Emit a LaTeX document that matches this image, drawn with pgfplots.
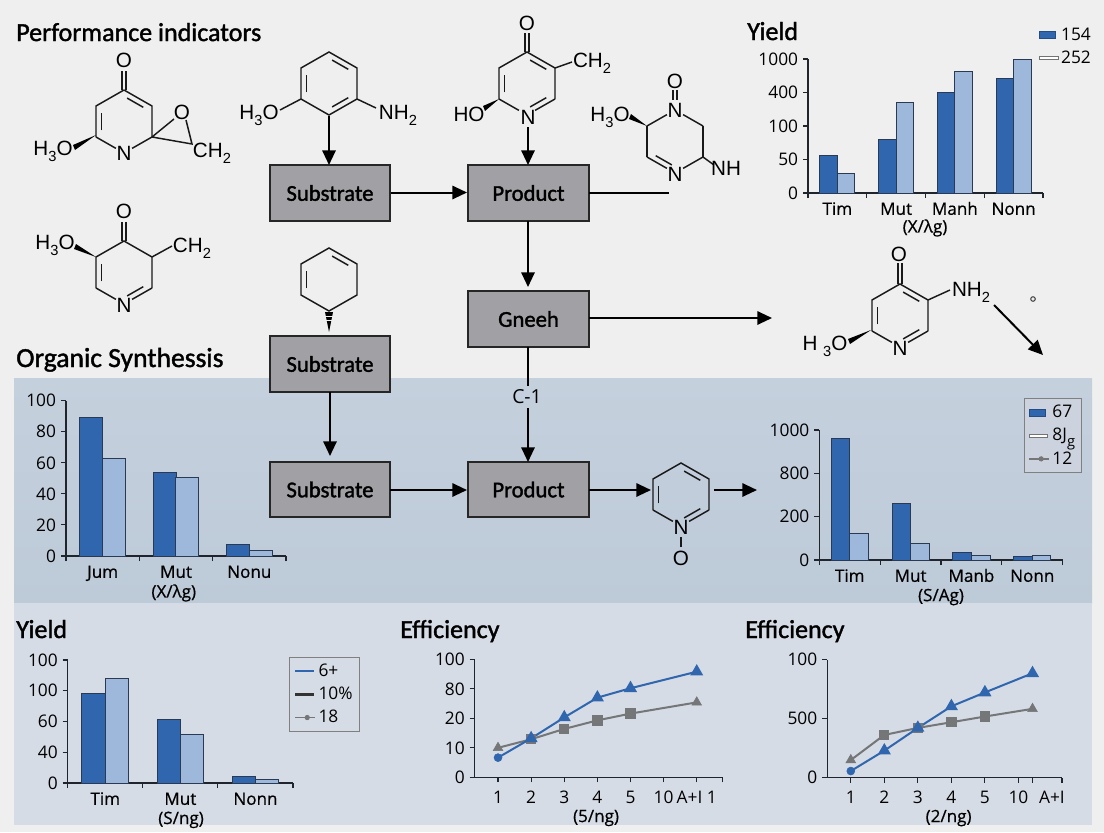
\documentclass[border=0pt]{standalone}
\usepackage{fontspec}
\usepackage{pgfplots}
\pgfplotsset{compat=1.18}
\usetikzlibrary{calc,arrows.meta}
\setmainfont{Open Sans}
\newfontfamily\titlef[FakeBold=1.5]{Carlito}
\newfontfamily\labelf[FakeBold=0.6]{Open Sans}
\newfontfamily\chemf{Liberation Sans}
\definecolor{barblue}{HTML}{2F66AD}
\definecolor{barlight}{HTML}{9DB8DA}
\definecolor{barline}{HTML}{2A3A52}
\definecolor{axisdark}{HTML}{20242C}
\definecolor{linegray}{HTML}{747678}
\definecolor{boxgray}{HTML}{A0A0A5}
\definecolor{pagebg}{HTML}{EFEFF0}
\definecolor{bandtop}{HTML}{C5D0DD}
\definecolor{bandbot}{HTML}{BDCAD8}
\definecolor{bandlow}{HTML}{D6DCE6}
\definecolor{legfill}{HTML}{CDD3DE}
\newcommand{\ttl}[1]{{\titlef\fontsize{19.5}{21}\selectfont #1}}
\newcommand{\sub}[1]{\raisebox{-.3em}{\fontsize{11}{12}\selectfont #1}}
\newcommand{\hexa}[3]{%
  \coordinate (#1c) at (#2,#3+31.5);
  \coordinate (#11) at (#2,#3);
  \coordinate (#12) at (#2+28,#3+16);
  \coordinate (#13) at (#2+28,#3+47);
  \coordinate (#14) at (#2,#3+63);
  \coordinate (#15) at (#2-28,#3+47);
  \coordinate (#16) at (#2-28,#3+16);}
\newcommand{\dbl}[3]{\draw[chem] ($(#1)!.14!(#2)!.2!(#3)$) -- ($(#2)!.14!(#1)!.2!(#3)$);}
\newcommand{\atom}[3]{\node[font=\chemf\fontsize{15.5}{17}\selectfont,inner sep=0pt] at (#1,#2) {#3};}
\pgfplotsset{
  panel/.style={
    scale only axis, anchor=south west, enlargelimits=false, clip=false,
    axis x line*=bottom, axis y line*=left,
    axis line style={axisdark,line width=.9pt,-},
    tick style={axisdark,line width=.8pt},
    tick align=outside, major tick length=3.75pt, minor tick length=3.75pt,
    yticklabel style={inner sep=1pt,xshift=-2.5pt,font=\fontsize{13}{14}\selectfont},
    xticklabel style={anchor=base,font=\labelf\fontsize{12.8}{14}\selectfont},
    x label style={anchor=center,font=\labelf\fontsize{12.8}{14}\selectfont},
    legend style={draw=none,fill=none,font=\fontsize{13}{14}\selectfont,
      inner sep=2pt,row sep=2.5pt,cells={anchor=west}},
    legend cell align=left,
  },
  barpanel/.style={panel,ybar,
    major x tick style={draw=none},
    xticklabel style={yshift=-12.6pt},
  },
  linepanel/.style={panel,xticklabel style={yshift=-15.8pt,font=\fontsize{13}{14}\selectfont}},
  bluebar/.style={fill=barblue,draw=barline,line width=.7pt},
  lightbar/.style={fill=barlight,draw=barline,line width=.7pt},
  legswatch/.style={legend image code/.code={\fill[#1,draw=barblue!75!black,line width=.4pt] (0pt,-2.5pt) rectangle (12pt,2.5pt);}},
  legthin/.style={legend image code/.code={\draw[#1,line width=.7pt,fill=white] (0pt,-1.2pt) rectangle (14pt,1.2pt);}},
  legline/.style={legend image code/.code={\draw[#1] (0pt,0pt) -- (14pt,0pt);}},
  legmark/.style={legend image code/.code={\draw[linegray,line width=1pt] (0pt,0pt) -- (15pt,0pt);\fill[linegray] (9pt,0pt) circle (1.6pt);}},
  blueline/.style={color=barblue,line width=1.5pt,mark=triangle*,mark size=4.2pt,mark options={solid,fill=barblue}},
  grayline/.style={color=linegray,line width=1.5pt,mark=square*,mark size=3.1pt,mark options={solid,fill=linegray}},
}
\begin{document}
\begin{tikzpicture}
\begin{scope}[x=0.75pt,y=-0.75pt,
  chem/.style={line width=1.1pt,black!90},
  flow/.style={line width=1.5pt,black},
  arr/.style={flow,-{Triangle[length=11pt,width=10pt]}},
  box/.style={draw=black!85,fill=boxgray,line width=1.1pt}]
\useasboundingbox (0,0) rectangle (1104,832);
% background and bands
\fill[pagebg] (0,0) rectangle (1104,832);
\shade[top color=bandtop,bottom color=bandbot] (14,378) rectangle (1092,603);
\fill[bandlow] (14,603) rectangle (1092,825);

% section titles
\node[anchor=base west,inner sep=0pt] at (16,41) {\ttl{Performance indicators}};
\node[anchor=base west,inner sep=0pt] at (747,40) {\ttl{Yield}};
\node[anchor=base west,inner sep=0pt] at (16,367) {{\titlef\fontsize{20.7}{22}\selectfont Organic Synthessis}};
\node[anchor=base west,inner sep=0pt] at (16,638) {\ttl{Yield}};
\node[anchor=base west,inner sep=0pt] at (400,638) {\ttl{Efficiency}};
\node[anchor=base west,inner sep=0pt] at (745,638) {\ttl{Efficiency}};

% molecule 1
\hexa{a}{124}{90}
\draw[chem] (a1)--(a2)--(a3) (a5)--(a6)--(a1);
\draw[chem,shorten >=7pt] (a3)--(a4);
\draw[chem,shorten >=7pt] (a5)--(a4);
\dbl{a1}{a2}{ac}\dbl{a5}{a6}{ac}
\draw[chem] (122,71)--(122,90) (126,71)--(126,90);
\fill (96,135)--(73,145)--(75,150)--cycle;
\draw[chem] (a3)--(174,119) (186,120)--(192,144)--(a3);
\atom{124}{60}{O}\atom{124}{153}{N}\atom{53}{151}{H\sub{3}O}\atom{182}{112}{O}\atom{212}{153}{CH\sub{2}}
% molecule 2
\hexa{b}{124}{241}
\draw[chem] (b5)--(b6)--(b1)--(b2)--(b3);
\draw[chem,shorten >=7pt] (b3)--(b4);
\draw[chem,shorten >=7pt] (b5)--(b4);
\dbl{b5}{b6}{bc}\dbl{b3}{b4}{bc}
\draw[chem] (122,222)--(122,241) (126,222)--(126,241);
\fill (96,257)--(76,244)--(74,249)--cycle;
\draw[chem] (b2)--(172,246);
\atom{124}{211}{O}\atom{124}{305}{N}\atom{55}{245}{H\sub{3}O}\atom{192}{248}{CH\sub{2}}
% molecule 3
\hexa{c}{329}{52}
\draw[chem] (c1)--(c2)--(c3)--(c4)--(c5)--(c6)--cycle;
\dbl{c1}{c2}{cc}\dbl{c3}{c4}{cc}\dbl{c5}{c6}{cc}
\draw[chem] (c5)--(280,110) (c3)--(376,108);
\atom{259}{115}{H\sub{3}O}\atom{398}{115}{NH\sub{2}}
% molecule 4
\hexa{d}{527}{52}
\draw[chem] (d5)--(d6)--(d1)--(d2)--(d3);
\draw[chem,shorten >=7pt] (d3)--(d4);
\draw[chem,shorten >=7pt] (d5)--(d4);
\dbl{d5}{d6}{dc}\dbl{d1}{d2}{dc}\dbl{d3}{d4}{dc}
\draw[chem] (525,33)--(525,52) (529,33)--(529,52);
\fill (499,99)--(483,106)--(485,111)--cycle;
\draw[chem] (d2)--(572,62);
\atom{527}{23}{O}\atom{528}{117}{N}\atom{469}{114}{HO}\atom{592}{63}{CH\sub{2}}
% molecule 5
\hexa{e}{675}{110}
\draw[chem,shorten <=7pt] (e1)--(e2);
\draw[chem] (e2)--(e3) (e5)--(e6);
\draw[chem,shorten >=7pt] (e3)--(e4);
\draw[chem,shorten >=7pt] (e5)--(e4);
\draw[chem,shorten >=7pt] (e6)--(e1);
\dbl{e5}{e4}{ec}
\draw[chem] (673,90)--(673,100) (677,90)--(677,100);
\fill (647,126)--(631,114)--(629,119)--cycle;
\draw[chem] (e3)--(714,165);
\atom{675}{81}{O}\atom{675}{110}{N}\atom{675}{174}{N}\atom{610}{117}{H\sub{3}O}\atom{726}{168}{NH}
% molecule 6
\hexa{f}{900}{284}
\draw[chem] (f5)--(f6)--(f1)--(f2)--(f3);
\draw[chem,shorten >=7pt] (f3)--(f4);
\draw[chem,shorten >=7pt] (f5)--(f4);
\dbl{f5}{f6}{fc}\dbl{f1}{f2}{fc}\dbl{f3}{f4}{fc}
\draw[chem] (898,263)--(898,284) (902,263)--(902,284);
\fill (871,330)--(848,339)--(850,344)--cycle;
\draw[chem] (f2)--(950,290);
\atom{899}{254}{O}\atom{900}{348}{N}\atom{825}{346}{H \sub{3}O}\atom{971}{292}{NH\sub{2}}
% molecule 7
\hexa{g}{329}{248}
\draw[chem] (g1)--(g2)--(g3)--(g4)--(g5)--(g6)--cycle;
\dbl{g1}{g2}{gc}\dbl{g5}{g6}{gc}
\fill (325,312)--(333,312)--(329,332)--cycle;
\draw[pagebg,line width=.5pt] (325,316)--(333,316) (325,320)--(333,320);
% molecule 8
\hexa{h}{681}{463}
\draw[chem] (h3)--(h2)--(h1)--(h6)--(h5);
\draw[chem,shorten >=7pt] (h3)--(h4);
\draw[chem,shorten >=7pt] (h5)--(h4);
\dbl{h5}{h6}{hc}\dbl{h1}{h2}{hc}\dbl{h3}{h4}{hc}
\draw[chem] (681,537)--(681,547);
\atom{681}{527}{N}\atom{681}{558}{O}

% flow boxes
\foreach \xa/\ya/\xb/\yb/\t in {270/165/390/221/Substrate,468/165/589/221/Product,468/291/589/347/Gneeh,
  270/336/390/392/Substrate,270/462/390/517/Substrate,468/462/589/517/Product}{
  \draw[box] (\xa,\ya) rectangle (\xb,\yb);
  \node[font=\titlef\fontsize{17}{19}\selectfont] at ({(\xa+\xb)/2},{(\ya+\yb)/2}) {\t};
}
% arrows
\draw[arr] (329,116)--(329,165);
\draw[arr] (391,192.5)--(467,192.5);
\draw[flow] (589,192.5)--(669,192.5);
\draw[arr] (528,127)--(528,165);
\draw[arr] (528,221)--(528,287);
\draw[arr] (589,318)--(772,318);
\draw[flow] (528,347)--(528,386);
\node[font=\fontsize{14.5}{16}\selectfont] at (527,397) {C-1};
\draw[arr] (528,408)--(528,462);
\draw[arr] (330,392)--(330,456);
\draw[arr] (390,490)--(467,490);
\draw[arr] (589,490)--(651,490);
\draw[arr] (714,490)--(757,490);
\draw[arr] (994,305)--(1043,355);
\draw[black!80,line width=.7pt] (1033,299) circle (2.3);
\end{scope}

% top right bars
\begin{axis}[barpanel,at={(606pt,-144.75pt)},width=176.25pt,height=100.5pt,
  xmin=-.5,xmax=3.5,ymin=0,ymax=4,bar width=13.1pt,
  xtick={0,1,2,3},xticklabels={Tim,Mut,Manh,Nonn},
  minor xtick={-.5,.5,1.5,2.5,3.5},
  ytick={0,1,2,3,4},yticklabels={0,50,100,400,1000},
  xlabel={(X/λg)},x label style={at={(axis description cs:.498,-.261)}},
  legend style={at={(.97,1.276)},anchor=north west}]
\addplot[bluebar,bar shift=-6.55pt,legswatch=barblue] coordinates {(0,1.13) (1,1.61) (2,3.01) (3,3.43)};
\addlegendentry{154}
\addplot[lightbar,bar shift=6.55pt,legthin=black!55] coordinates {(0,.57) (1,2.69) (2,3.64) (3,4)};
\addlegendentry{252}
\end{axis}

% organic synthesis left bars
\begin{axis}[barpanel,at={(49.5pt,-417pt)},width=165pt,height=116.5pt,
  xmin=-.5,xmax=2.5,ymin=0,ymax=100,bar width=17.25pt,
  xtick={0,1,2},xticklabels={Jum,Mut,Nonu},
  minor xtick={-.5,.5,1.5,2.5},
  ytick={0,20,40,60,80,100},yticklabels={0,20,40,60,80,100},
  xlabel={(X/λg)},x label style={at={(axis description cs:.49,-.238)}}]
\addplot[bluebar,bar shift=-8.6pt] coordinates {(0,89) (1,53.9) (2,7.7)};
\addplot[lightbar,bar shift=8.6pt] coordinates {(0,62.9) (1,50.6) (2,3.4)};
\end{axis}

% organic synthesis right bars
\begin{axis}[barpanel,at={(614.475pt,-420pt)},width=182.55pt,height=97.5pt,
  xmin=-.5,xmax=3.5,ymin=0,ymax=3,bar width=13.9pt,
  xtick={0,1,2,3},xticklabels={Tim,Mut,Manb,Nonn},
  minor xtick={-.5,.5,1.5,2.5,3.5},
  ytick={0,1,2,3},yticklabels={0,200,800,1000},
  xlabel={(S/Ag)},x label style={at={(axis description cs:.5,-.285)}},
  legend style={at={(.841,1.246)},anchor=north west,draw=black!50,fill=legfill,line width=.7pt,inner sep=3pt}]
\addplot[bluebar,bar shift=-6.95pt,legswatch=barblue] coordinates {(0,2.8) (1,1.3) (2,.177) (3,.077)};
\addlegendentry{67}
\addplot[lightbar,bar shift=6.95pt,legthin=black!55] coordinates {(0,.615) (1,.377) (2,.108) (3,.1)};
\addlegendentry{8J\sub{g}}
\addlegendimage{legmark}
\addlegendentry{12}
\end{axis}

% yield bars
\begin{axis}[barpanel,at={(50.775pt,-587.25pt)},width=169pt,height=92.25pt,
  xmin=-.5,xmax=2.5,ymin=0,ymax=4,bar width=17.5pt,
  xtick={0,1,2},xticklabels={Tim,Mut,Nonn},
  minor xtick={-.5,.5,1.5,2.5},
  ytick={0,1,2,3,4},yticklabels={0,40,60,100,100},
  xlabel={(S/ng)},x label style={at={(axis description cs:.503,-.30)}},
  legend style={at={(.984,1.027)},anchor=north west,draw=black!50,line width=.7pt,inner sep=3pt}]
\addplot[bluebar,bar shift=-8.75pt,legline={barblue,line width=2pt}] coordinates {(0,2.92) (1,2.08) (2,.217)};
\addlegendentry{6+}
\addplot[lightbar,bar shift=8.75pt,legline={black!80,line width=2pt}] coordinates {(0,3.41) (1,1.59) (2,.108)};
\addlegendentry{10\%}
\addlegendimage{legmark}
\addlegendentry{18}
\end{axis}

% efficiency 1
\begin{axis}[linepanel,at={(356.025pt,-582.975pt)},width=186.15pt,height=88.5pt,
  xmin=.296,xmax=7.79,ymin=0,ymax=4,
  xtick={1,2,3,4,5,6,7,7.79},xticklabels={1,2,3,4,5,10,A+I 1,},
  ytick={0,1,2,3,4},yticklabels={0,10,20,80,100},
  xlabel={(5/ng)},x label style={at={(axis description cs:.489,-.345)}}]
\addplot[grayline,mark indices={2,3,4,5}] coordinates {(1,1) (2,1.29) (3,1.64) (4,1.93) (5,2.16) (7,2.54)};
\addplot[only marks,color=linegray,mark=triangle*,mark size=4.2pt] coordinates {(1,1) (7,2.54)};
\addplot[blueline,mark indices={2,3,4,5,6}] coordinates {(1,.667) (2,1.32) (3,2.03) (4,2.7) (5,3.02) (7,3.58)};
\addplot[only marks,color=barblue,mark=*,mark size=3pt] coordinates {(1,.667)};
\end{axis}

% efficiency 2
\begin{axis}[linepanel,at={(620.4pt,-583.275pt)},width=176.1pt,height=88.5pt,
  xmin=.296,xmax=7.30,ymin=0,ymax=2,
  xtick={1,2,3,4,5,6,6.42,7.30},xticklabels={1,2,3,4,5,10,,},
  extra x ticks={7.0},extra x tick labels={A+I},
  extra x tick style={major tick length=0pt,xticklabel style={yshift=-3.75pt}},
  ytick={0,1,2},yticklabels={0,500,100},
  xlabel={(2/ng)},x label style={at={(axis description cs:.517,-.342)}}]
\addplot[grayline,mark indices={2,3,4,5}] coordinates {(1,.30) (2,.725) (3,.844) (4,.94) (5,1.037) (6.42,1.167)};
\addplot[only marks,color=linegray,mark=triangle*,mark size=4.2pt] coordinates {(1,.30) (6.42,1.167)};
\addplot[blueline,mark indices={2,3,4,5,6}] coordinates {(1,.113) (2,.459) (3,.844) (4,1.21) (5,1.445) (6.42,1.77)};
\addplot[only marks,color=barblue,mark=*,mark size=3pt] coordinates {(1,.113)};
\end{axis}
\end{tikzpicture}
\end{document}
